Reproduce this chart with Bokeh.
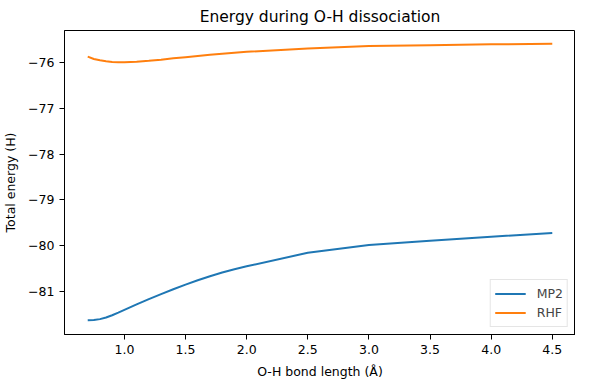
from bokeh.plotting import figure
from bokeh.models import FixedTicker, Range1d, Legend, LegendItem
from bokeh.embed import file_html
from bokeh.resources import INLINE

bond_length = [0.70, 0.75, 0.80, 0.85, 0.90, 0.95, 1.0, 1.1, 1.2, 1.3, 1.4, 1.5, 1.6, 1.7, 1.8, 1.9,
               2.0, 2.5, 3.0, 3.5, 4.0, 4.5]
mp2_energy = [-81.62, -81.615, -81.595, -81.56, -81.51, -81.455, -81.395, -81.275, -81.16, -81.05,
              -80.945, -80.845, -80.75, -80.66, -80.58, -80.51, -80.445, -80.15, -79.98, -79.89,
              -79.80, -79.72]
rhf_energy = [-75.88, -75.93, -75.96, -75.98, -75.995, -76.00, -76.00, -75.99, -75.97, -75.945,
              -75.915, -75.89, -75.865, -75.84, -75.815, -75.795, -75.775, -75.70, -75.65, -75.63,
              -75.61, -75.60]
x_ticks = [1.0, 1.5, 2.0, 2.5, 3.0, 3.5, 4.0, 4.5]
y_ticks = [-81, -80, -79, -78, -77, -76]

FONT = "DejaVu Sans"

p = figure(frame_width=511, frame_height=304, output_backend="svg", toolbar_location=None,
           x_range=Range1d(0.51, 4.69), y_range=Range1d(-81.93, -75.31),
           min_border_left=63, min_border_right=0, min_border_top=23, min_border_bottom=47)

p.title.text = "Energy during O-H dissociation"
p.title.align = "center"
p.title.text_font = FONT
p.title.text_font_size = "15.5px"
p.title.text_font_style = "normal"
p.title.text_color = "black"

p.xgrid.visible = False
p.ygrid.visible = False
p.outline_line_color = "black"
p.outline_line_alpha = 1.0
p.outline_line_width = 1

for ax in (p.xaxis[0], p.yaxis[0]):
    ax.major_label_text_font = FONT
    ax.major_label_text_font_size = "12.5px"
    ax.major_label_text_color = "black"
    ax.axis_label_text_font = FONT
    ax.axis_label_text_font_size = "12.5px"
    ax.axis_label_text_font_style = "normal"
    ax.axis_label_text_color = "black"
    ax.major_tick_in = 0
    ax.major_tick_out = 5
    ax.minor_tick_in = 0
    ax.minor_tick_out = 0
    ax.major_label_standoff = 5
    ax.axis_label_standoff = 7
    ax.axis_line_color = "black"
    ax.major_tick_line_color = "black"

p.xaxis.axis_label = "O-H bond length (Å)"
p.yaxis.axis_label = "Total energy (H)"
p.xaxis.ticker = FixedTicker(ticks=x_ticks)
p.yaxis.ticker = FixedTicker(ticks=y_ticks)
p.xaxis.major_label_overrides = {t: f"{t:.1f}" for t in x_ticks}
p.yaxis.major_label_overrides = {t: f"\u2212{abs(t)}" for t in y_ticks}

r1 = p.line(bond_length, mp2_energy, line_color="#1f77b4", line_width=2)
r2 = p.line(bond_length, rhf_energy, line_color="#ff7f0e", line_width=2)

legend = Legend(items=[LegendItem(label="MP2", renderers=[r1]),
                       LegendItem(label="RHF", renderers=[r2])],
                location="bottom_right")
legend.label_text_font = FONT
legend.label_text_font_size = "12.5px"
legend.border_line_color = "#cccccc"
legend.border_line_width = 1
legend.background_fill_alpha = 0.8
legend.glyph_width = 31
legend.glyph_height = 19
legend.label_height = 19
legend.spacing = 0
legend.padding = 4
legend.margin = 7
legend.label_standoff = 11
p.add_layout(legend)

open("out.html", "w").write(file_html(p, INLINE))
